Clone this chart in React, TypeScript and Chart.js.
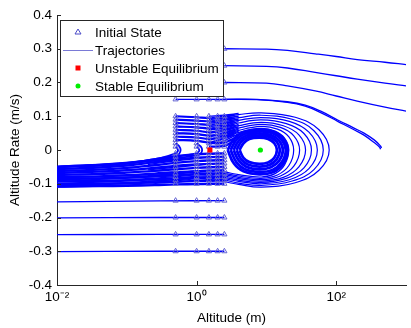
import React, { useEffect, useRef } from 'react';
import { Chart, registerables } from 'chart.js';

Chart.register(...registerables);

// ---- axes ----
const xTickValues = [0.01, 1, 100];
const xTickLabels = ['10\u207B\u00B2', '10\u2070', '10\u00B2'];
const yTickValues = [-0.4, -0.3, -0.2, -0.1, 0, 0.1, 0.2, 0.3, 0.4];
const legendLabels = ['Initial State', 'Trajectories', 'Unstable Equilibrium', 'Stable Equilibrium'];

// ---- initial states ----
const initX = [0.5, 1, 1.5, 2, 2.5];
const initYGrid = [-0.1, -0.09, -0.08, -0.07, -0.06, -0.05, -0.04, -0.03, -0.02, -0.01, 0.01, 0.02, 0.03, 0.04, 0.05, 0.06, 0.07, 0.08, 0.09, 0.1];
const initYWide = [-0.3, -0.25, -0.2, -0.15, 0.15];
const initXTop = [2.5];
const initYTop = [0.2, 0.25, 0.3];

// ---- equilibria ----
const unstableEq = [[1.55, 0]];
const stableEq = [[8.2, 0]];

// ---- trajectories: upper rows going right ----
const upperRows: number[][][] = [
  [[2.5, 0.3], [10, 0.299], [20, 0.295], [50, 0.285], [100, 0.277], [200, 0.268], [500, 0.26], [1000, 0.253]],
  [[2.5, 0.25], [10, 0.248], [20, 0.243], [50, 0.23], [100, 0.22], [200, 0.21], [500, 0.198], [1000, 0.19]],
  [[2.5, 0.2], [10, 0.198], [20, 0.19], [50, 0.175], [100, 0.16], [200, 0.145], [500, 0.127], [1000, 0.115]],
  [[0.5, 0.15], [2.5, 0.15], [7.3, 0.15], [20, 0.143], [36, 0.133], [60, 0.115], [105, 0.089], [180, 0.065], [250, 0.05], [350, 0.03], [430, 0.012], [447, 0.006]],
  [[2.5, 0.15], [7.3, 0.149], [20, 0.141], [36, 0.13], [60, 0.111], [105, 0.085], [180, 0.06], [250, 0.044], [350, 0.022], [420, 0.008], [432, 0.002]],
];

// ---- trajectories: lower rows going left ----
const lowerRows: number[][][] = [
  [[2.5, -0.15], [0.3, -0.151], [0.01, -0.154]],
  [[2.5, -0.2], [0.3, -0.2], [0.01, -0.201]],
  [[2.5, -0.25], [0.3, -0.25], [0.01, -0.251]],
  [[2.5, -0.3], [0.3, -0.3], [0.01, -0.301]],
];

// ---- trajectories: small negative rows falling into the left band ----
const bandRows: number[][][] = [
  [[2.5, -0.01], [1.6, -0.011], [1.0, -0.013], [0.5, -0.018], [0.25, -0.028], [0.1, -0.04], [0.04, -0.046], [0.01, -0.051]],
  [[2.5, -0.02], [1.6, -0.021], [1.0, -0.023], [0.5, -0.028], [0.25, -0.036], [0.1, -0.046], [0.04, -0.052], [0.01, -0.057]],
  [[2.5, -0.03], [1.6, -0.031], [1.0, -0.033], [0.5, -0.038], [0.25, -0.045], [0.1, -0.053], [0.04, -0.058], [0.01, -0.062]],
  [[2.5, -0.04], [1.6, -0.041], [1.0, -0.043], [0.5, -0.047], [0.25, -0.053], [0.1, -0.06], [0.04, -0.064], [0.01, -0.068]],
  [[2.5, -0.05], [1.6, -0.051], [1.0, -0.053], [0.5, -0.057], [0.25, -0.062], [0.1, -0.067], [0.04, -0.071], [0.01, -0.074]],
  [[2.5, -0.06], [1.6, -0.061], [1.0, -0.063], [0.5, -0.066], [0.25, -0.07], [0.1, -0.075], [0.04, -0.078], [0.01, -0.08]],
  [[2.5, -0.07], [1.6, -0.071], [1.0, -0.072], [0.5, -0.075], [0.25, -0.078], [0.1, -0.082], [0.04, -0.084], [0.01, -0.086]],
  [[2.5, -0.08], [1.6, -0.081], [1.0, -0.082], [0.5, -0.084], [0.25, -0.087], [0.1, -0.09], [0.04, -0.092], [0.01, -0.093]],
  [[2.5, -0.09], [1.6, -0.091], [1.0, -0.092], [0.5, -0.094], [0.25, -0.096], [0.1, -0.098], [0.04, -0.1], [0.01, -0.101]],
  [[2.5, -0.1], [1.6, -0.1], [1.0, -0.101], [0.5, -0.102], [0.25, -0.104], [0.1, -0.106], [0.04, -0.107], [0.01, -0.108]],
];

// ---- trajectories: positive rows between the initial columns ----
const positiveRows: number[][][] = [
  [[0.5, 0.1], [1.0, 0.097], [1.6, 0.095], [2.5, 0.099], [3.5, 0.103]],
  [[0.5, 0.09], [1.0, 0.087], [1.6, 0.085], [2.5, 0.089], [3.5, 0.094]],
  [[0.5, 0.08], [1.0, 0.077], [1.6, 0.075], [2.5, 0.079], [3.5, 0.085]],
  [[0.5, 0.07], [1.0, 0.067], [1.6, 0.064], [2.5, 0.069], [3.5, 0.076]],
  [[0.5, 0.06], [1.0, 0.057], [1.6, 0.053], [2.5, 0.06], [3.5, 0.068]],
  [[0.5, 0.05], [1.0, 0.047], [1.6, 0.043], [2.5, 0.051], [3.5, 0.06]],
  [[0.5, 0.04], [1.0, 0.037], [1.6, 0.033], [2.5, 0.043], [3.5, 0.053]],
  [[0.5, 0.03], [1.0, 0.027], [1.6, 0.023], [2.5, 0.035], [3.5, 0.046]],
  [[1.5, 0.02], [2.5, 0.022], [3.1, 0.03], [4.0, 0.04]],
  [[1.5, 0.01], [2.5, 0.012], [3.0, 0.02], [3.6, 0.03]],
];

// ---- trajectories: rows started further right (slightly different paths) ----
const laterRows: number[][][] = [
  [[1.5, 0.1], [2.5, 0.103], [4, 0.108]],
  [[1.5, 0.09], [2.5, 0.094], [4, 0.1]],
  [[1.5, 0.08], [2.5, 0.084], [4, 0.092]],
  [[1.5, 0.07], [2.5, 0.074], [4, 0.084]],
  [[1.5, 0.06], [2.5, 0.065], [4, 0.076]],
  [[1.5, 0.05], [2.5, 0.056], [4, 0.069]],
  [[1.5, 0.04], [2.5, 0.047], [4, 0.062]],
  [[1.5, 0.03], [2.5, 0.039], [4, 0.056]],
  [[2.0, 0.02], [2.5, 0.028], [4, 0.048]],
  [[2.0, -0.02], [1.0, -0.025], [0.5, -0.032], [0.2, -0.043]],
  [[2.0, -0.04], [1.0, -0.045], [0.5, -0.051], [0.2, -0.059]],
  [[2.0, -0.06], [1.0, -0.065], [0.5, -0.07], [0.2, -0.076]],
  [[2.0, -0.08], [1.0, -0.084], [0.5, -0.088], [0.2, -0.093]],
];

// ---- trajectories: turning back left of the saddle ----
const humpRows: number[][][] = [
  [[0.5, 0.02], [0.56, 0.012], [0.59, 0], [0.56, -0.012], [0.5, -0.019], [0.3, -0.028], [0.1, -0.04], [0.01, -0.05]],
  [[0.5, 0.01], [0.53, 0.004], [0.54, -0.003], [0.5, -0.01], [0.3, -0.024], [0.1, -0.038], [0.01, -0.049]],
  [[1.0, 0.02], [1.15, 0.01], [1.2, 0], [1.15, -0.01], [1.0, -0.016], [0.5, -0.024], [0.2, -0.034], [0.05, -0.044], [0.01, -0.05]],
  [[1.0, 0.01], [1.07, 0.004], [1.09, -0.003], [1.0, -0.01], [0.5, -0.02], [0.2, -0.031], [0.05, -0.042], [0.01, -0.049]],
];

// ---- trajectories: going around the stable equilibrium and escaping left ----
const escapeOrbits: number[][][] = [
  [[0.5, 0.1], [1.0, 0.097], [1.6, 0.095], [2.5, 0.099], [4, 0.105], [8.4, 0.11], [25.85, 0.097], [56.7, 0.06], [79.4, 0], [56.7, -0.06], [25.85, -0.097], [8.4, -0.11], [4, -0.102], [2.5, -0.094], [1.6, -0.088], [1.0, -0.09], [0.5, -0.095], [0.15, -0.102], [0.04, -0.107], [0.01, -0.11]],
  [[0.5, 0.09], [1.0, 0.087], [1.6, 0.085], [2.5, 0.089], [4, 0.096], [8.4, 0.103], [23.4, 0.091], [48, 0.057], [65.3, 0], [48, -0.058], [23.4, -0.092], [8.4, -0.105], [4, -0.098], [2.5, -0.089], [1.6, -0.084], [1.0, -0.086], [0.5, -0.091], [0.15, -0.098], [0.04, -0.103], [0.01, -0.106]],
  [[0.5, 0.08], [1.0, 0.077], [1.6, 0.075], [2.5, 0.079], [4, 0.088], [8.4, 0.096], [21.3, 0.085], [40.7, 0.053], [53.7, 0], [40.7, -0.055], [21.3, -0.088], [8.4, -0.1], [4, -0.093], [2.5, -0.085], [1.6, -0.08], [1.0, -0.082], [0.5, -0.087], [0.15, -0.094], [0.04, -0.099], [0.01, -0.102]],
  [[0.5, 0.07], [1.0, 0.067], [1.6, 0.064], [2.5, 0.069], [4, 0.08], [8.4, 0.089], [19.3, 0.078], [34.5, 0.049], [44.2, 0], [34.5, -0.053], [19.3, -0.084], [8.4, -0.096], [4, -0.089], [2.5, -0.081], [1.6, -0.076], [1.0, -0.078], [0.5, -0.083], [0.15, -0.09], [0.04, -0.095], [0.01, -0.098]],
  [[0.5, 0.06], [1.0, 0.057], [1.6, 0.053], [2.5, 0.06], [4, 0.072], [8.4, 0.082], [17.5, 0.072], [29.2, 0.045], [36.4, 0], [29.2, -0.05], [17.5, -0.081], [8.4, -0.092], [4, -0.085], [2.5, -0.077], [1.6, -0.072], [1.0, -0.074], [0.5, -0.079], [0.15, -0.086], [0.04, -0.091], [0.01, -0.094]],
  [[0.5, 0.05], [1.0, 0.047], [1.6, 0.043], [2.5, 0.051], [4, 0.065], [8.4, 0.076], [15.9, 0.067], [24.7, 0.042], [29.9, 0], [24.7, -0.048], [15.9, -0.077], [8.4, -0.088], [4, -0.081], [2.5, -0.073], [1.6, -0.068], [1.0, -0.07], [0.5, -0.075], [0.15, -0.082], [0.04, -0.087], [0.01, -0.09]],
  [[0.5, 0.04], [1.0, 0.037], [1.6, 0.033], [2.5, 0.043], [4, 0.058], [8.4, 0.07], [14.4, 0.062], [21, 0.039], [24.6, 0], [21, -0.046], [14.4, -0.074], [8.4, -0.084], [4, -0.077], [2.5, -0.069], [1.6, -0.064], [1.0, -0.066], [0.5, -0.071], [0.15, -0.078], [0.04, -0.083], [0.01, -0.086]],
  [[0.5, 0.03], [1.0, 0.027], [1.6, 0.023], [2.5, 0.035], [4, 0.052], [8.4, 0.064], [13.3, 0.056], [18.2, 0.035], [20.9, 0], [18.2, -0.044], [13.3, -0.07], [8.4, -0.08], [4, -0.073], [2.5, -0.065], [1.6, -0.06], [1.0, -0.062], [0.5, -0.067], [0.15, -0.074], [0.04, -0.079], [0.01, -0.082]],
];

// ---- trajectories: trapped orbits around the stable equilibrium ----
const trappedOrbits: number[][][] = [
  [[4.115, 0], [4.69, 0.02], [5.7, 0.033], [7.89, 0.037], [10.57, 0.033], [12.97, 0.02], [14.16, 0], [12.97, -0.023], [10.57, -0.037], [7.89, -0.041], [5.7, -0.036], [4.69, -0.023], [4.115, 0]],
  [[3.733, 0], [4.335, 0.024], [5.43, 0.038], [7.89, 0.043], [11.1, 0.039], [14.09, 0.024], [15.62, 0], [14.09, -0.027], [11.1, -0.044], [7.89, -0.049], [5.43, -0.043], [4.335, -0.027], [3.733, 0]],
  [[3.387, 0], [4.01, 0.027], [5.17, 0.043], [7.89, 0.049], [11.65, 0.044], [15.31, 0.027], [17.21, 0], [15.31, -0.031], [11.65, -0.051], [7.89, -0.057], [5.17, -0.05], [4.01, -0.031], [3.387, 0]],
  [[3.072, 0], [3.71, 0.03], [4.92, 0.048], [7.89, 0.055], [12.24, 0.05], [16.63, 0.03], [18.97, 0], [16.63, -0.036], [12.24, -0.059], [7.89, -0.065], [4.92, -0.057], [3.71, -0.036], [3.072, 0]],
  [[2.786, 0], [3.43, 0.033], [4.69, 0.053], [7.89, 0.06], [12.64, 0.054], [17.58, 0.033], [20.25, 0], [17.58, -0.04], [12.64, -0.065], [7.89, -0.072], [4.69, -0.063], [3.43, -0.04], [2.786, 0]],
];

const BLUE = '#0000ff';
const FONT_FAMILY = '"Liberation Sans", Arial, Helvetica, sans-serif';

const toXY = (pts: number[][]) => pts.map(([x, y]) => ({ x, y }));

const insideTicks = {
  id: 'insideTicks',
  afterDraw(chart: any) {
    const { ctx, chartArea: a, scales } = chart;
    const xs = scales.x;
    const ys = scales.y;
    ctx.save();
    ctx.strokeStyle = '#262626';
    ctx.lineWidth = 1;
    ctx.beginPath();
    yTickValues.forEach((v) => {
      const py = Math.round(ys.getPixelForValue(v)) + 0.5;
      ctx.moveTo(a.left, py);
      ctx.lineTo(a.left + 4, py);
    });
    xTickValues.forEach((v) => {
      const px = Math.round(xs.getPixelForValue(v)) + 0.5;
      ctx.moveTo(px, a.bottom);
      ctx.lineTo(px, a.bottom - 4);
    });
    ctx.stroke();
    ctx.restore();
  },
};

const legendBox = {
  id: 'legendBox',
  afterDraw(chart: any) {
    const { ctx, chartArea: a } = chart;
    const left = a.left + 3;
    const top = a.top + 5;
    const w = 163;
    const h = 76;
    ctx.save();
    ctx.fillStyle = '#ffffff';
    ctx.fillRect(left, top, w, h);
    ctx.strokeStyle = '#262626';
    ctx.lineWidth = 1;
    ctx.strokeRect(left + 0.5, top + 0.5, w, h);
    const symX = left + 18;
    const textX = left + 35;
    const rowY = (i: number) => top + 12 + i * 18;
    let cy = rowY(0);
    ctx.strokeStyle = '#4b4bc8';
    ctx.beginPath();
    ctx.moveTo(symX, cy - 3);
    ctx.lineTo(symX + 3, cy + 2);
    ctx.lineTo(symX - 3, cy + 2);
    ctx.closePath();
    ctx.stroke();
    cy = rowY(1);
    ctx.strokeStyle = '#7a7ad6';
    ctx.beginPath();
    ctx.moveTo(left + 3, cy + 0.5);
    ctx.lineTo(left + 33, cy + 0.5);
    ctx.stroke();
    cy = rowY(2);
    ctx.fillStyle = '#ff0000';
    ctx.fillRect(symX - 2.5, cy - 2.5, 5, 5);
    cy = rowY(3);
    ctx.fillStyle = '#00ee00';
    ctx.beginPath();
    ctx.arc(symX, cy, 2.5, 0, Math.PI * 2);
    ctx.fill();
    ctx.fillStyle = '#000000';
    ctx.font = `13.5px ${FONT_FAMILY}`;
    ctx.textBaseline = 'middle';
    ctx.textAlign = 'left';
    legendLabels.forEach((t, i) => ctx.fillText(t, textX, rowY(i) + 1));
    ctx.restore();
  },
};

export default function App() {
  const canvasRef = useRef<HTMLCanvasElement | null>(null);

  useEffect(() => {
    document.body.style.margin = '0';
    const canvas = canvasRef.current;
    if (!canvas) return;

    const initPoints: { x: number; y: number }[] = [];
    initYGrid.forEach((y) => initX.forEach((x) => initPoints.push({ x, y })));
    initYWide.forEach((y) => initX.forEach((x) => initPoints.push({ x, y })));
    initYTop.forEach((y) => initXTop.forEach((x) => initPoints.push({ x, y })));

    const lineSet = (groups: number[][][], width: number) =>
      groups.map((g) => ({
        label: 'Trajectories',
        data: toXY(g),
        showLine: true,
        borderColor: BLUE,
        backgroundColor: BLUE,
        borderWidth: width,
        pointRadius: 0,
        tension: 0.4,
        fill: false,
      }));

    const datasets: any[] = [
      {
        label: 'Stable Equilibrium',
        data: toXY(stableEq),
        showLine: false,
        pointStyle: 'circle',
        pointRadius: 2.6,
        backgroundColor: '#00ee00',
        borderColor: '#00ee00',
        borderWidth: 0,
      },
      {
        label: 'Unstable Equilibrium',
        data: toXY(unstableEq),
        showLine: false,
        pointStyle: 'rect',
        pointRadius: 3.6,
        backgroundColor: '#ff0000',
        borderColor: '#ff0000',
        borderWidth: 0,
      },
      {
        label: 'Initial State',
        data: initPoints,
        showLine: false,
        pointStyle: 'triangle',
        pointRadius: 3,
        backgroundColor: 'rgba(0,0,0,0)',
        borderColor: '#6464d2',
        borderWidth: 1,
      },
      ...lineSet(upperRows, 1.3),
      ...lineSet(lowerRows, 1.3),
      ...lineSet(escapeOrbits, 1.2),
      ...lineSet(positiveRows, 2.2),
      ...lineSet(laterRows, 1.4),
      ...lineSet(trappedOrbits, 2.8),
      ...lineSet(bandRows, 2.4),
      ...lineSet(humpRows, 1.8),
    ];

    const font = { family: FONT_FAMILY, size: 13.5 };

    const chart = new Chart(canvas, {
      type: 'scatter',
      data: { datasets },
      options: {
        animation: false,
        responsive: true,
        maintainAspectRatio: false,
        layout: { padding: { top: 15, right: 0, left: 0, bottom: 0 } },
        plugins: { legend: { display: false }, tooltip: { enabled: false } },
        scales: {
          x: {
            type: 'logarithmic',
            min: 0.01,
            max: 1000,
            grid: { display: false, drawTicks: false },
            border: { display: true, color: '#262626', width: 1 },
            afterBuildTicks: (s: any) => {
              s.ticks = xTickValues.map((v) => ({ value: v }));
            },
            afterFit: (s: any) => {
              s.height = 43;
            },
            ticks: {
              autoSkip: false,
              maxRotation: 0,
              padding: 4,
              color: '#000',
              font,
              callback: (v: any) => {
                const i = xTickValues.indexOf(Number(v));
                return i >= 0 ? xTickLabels[i] : '';
              },
            },
            title: { display: true, text: 'Altitude (m)', color: '#000', font, padding: { top: 0, bottom: 2 } },
          },
          y: {
            type: 'linear',
            min: -0.4,
            max: 0.4,
            grid: { display: false, drawTicks: false },
            border: { display: true, color: '#262626', width: 1 },
            afterBuildTicks: (s: any) => {
              s.ticks = yTickValues.map((v) => ({ value: v }));
            },
            afterFit: (s: any) => {
              s.width = 57;
            },
            ticks: {
              autoSkip: false,
              padding: 5,
              color: '#000',
              font,
              callback: (v: any) => (Math.abs(Number(v)) < 1e-9 ? '0' : Number(v).toFixed(1)),
            },
            title: { display: true, text: 'Altitude Rate (m/s)', color: '#000', font, padding: { top: 7, bottom: 0 } },
          },
        },
      },
      plugins: [insideTicks, legendBox],
    });

    return () => chart.destroy();
  }, []);

  return (
    <div style={{ position: 'fixed', left: 0, top: 0, width: 411, height: 328, background: '#fff' }}>
      <canvas ref={canvasRef} />
    </div>
  );
}
